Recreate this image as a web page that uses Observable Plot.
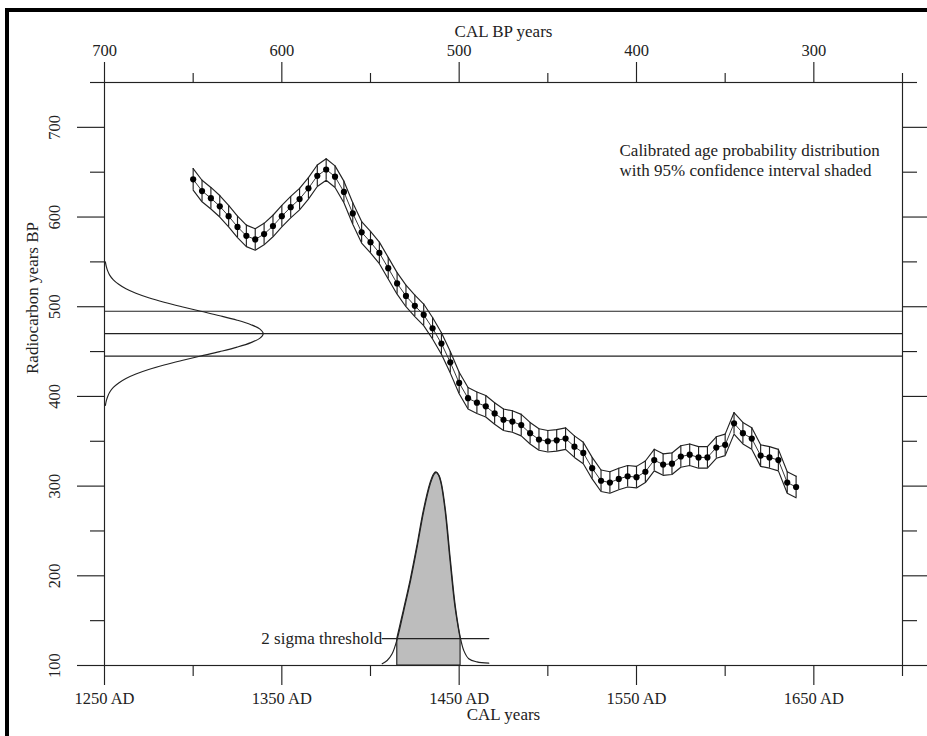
<!DOCTYPE html>
<html><head><meta charset="utf-8">
<script src="https://cdn.jsdelivr.net/npm/d3@7"></script>
<script src="https://cdn.jsdelivr.net/npm/@observablehq/plot@0.6"></script>
<style>
html,body{margin:0;padding:0;background:#fff;overflow:hidden;}
#wrap{position:relative;width:927px;height:736px;}
#border{position:absolute;left:5px;top:8px;width:1000px;height:1000px;border-left:4px solid #000;border-top:4px solid #000;pointer-events:none;}
</style></head><body>
<div id="wrap"><div id="chart"></div><div id="border"></div></div>
<script>
// Calibration curve (calendar year AD -> radiocarbon age BP)
const calYears = [1300,1305,1310,1315,1320,1325,1330,1335,1340,1345,1350,1355,1360,1365,1370,1375,1380,1385,1390,1395,1400,1405,1410,1415,1420,1425,1430,1435,1440,1445,1450,1455,1460,1465,1470,1475,1480,1485,1490,1495,1500,1505,1510,1515,1520,1525,1530,1535,1540,1545,1550,1555,1560,1565,1570,1575,1580,1585,1590,1595,1600,1605,1610,1615,1620,1625,1630,1635,1640];
const rcAge = [642,629,621,612,601,589,579,575,581,590,601,611,620,632,646,653,645,628,604,583,572,560,543,526,512,501,491,476,459,438,415,398,393,389,381,374,372,368,359,352,350,351,353,344,337,320,306,304,308,311,310,316,329,324,325,333,335,332,332,343,346,370,359,353,334,332,329,304,299];
const bandHalfWidth = 12;

// Sample radiocarbon date: mean and +/- 1 sigma lines
const sampleLines = [445, 470, 495];

// Radiocarbon probability curve drawn against the left axis
const gaussRc = [390,395,400,405,410,415,420,425,430,435,440,445,450,455,460,465,470,475,480,485,490,495,500,505,510,515,520,525,530,535,540,545,550];
const gaussYear = [1250.5,1251.0,1251.8,1253.0,1255.0,1258.0,1262.1,1267.7,1274.9,1283.6,1293.6,1304.3,1315.0,1324.8,1332.6,1337.7,1339.5,1337.7,1332.6,1324.8,1315.0,1304.3,1293.6,1283.6,1274.9,1267.7,1262.1,1258.0,1255.0,1253.0,1251.8,1251.0,1250.5];

// Calibrated age probability distribution (read in y-axis units)
const distYears = [1406.6,1409.4,1412.2,1415.1,1418.8,1422.6,1426.3,1430.1,1433.8,1435.8,1437.1,1438.6,1440.0,1442.3,1445.1,1447.9,1450.8,1452.6,1455.4,1460.0,1466.7];
const distValues = [101.9,105.6,113.0,129.8,161.3,194.7,231.9,272.8,303.0,313.0,315.4,312.0,303.0,272.8,217.0,165.0,129.8,116.7,107.5,104.0,102.6];
const shadeRange = [1415.1, 1450.8];
const thresholdValue = 130;
const thresholdYears = [1406.6, 1466.7];

// Axes
const xMajor = [1250,1350,1450,1550,1650];
const xMinor = [1300,1400,1500,1600,1700];
const yMajor = [100,200,300,400,500,600,700];
const yMinor = [150,250,350,450,550,650,750];

const curve = calYears.map((x, i) => ({x, rc: rcAge[i]}));
const gauss = gaussRc.map((rc, i) => ({x: gaussYear[i], rc}));
const dist = distYears.map((x, i) => ({x, v: distValues[i]}));
const shade = dist.filter(d => d.x >= shadeRange[0] && d.x <= shadeRange[1]);
const threshold = thresholdYears.map(x => ({x, v: thresholdValue}));

const ink = "#222";
const tickFont = 16.5;
const sw = 1.15;

const chart = Plot.plot({
  width: 927,
  height: 736,
  marginLeft: 104,
  marginRight: 25,
  marginTop: 82,
  marginBottom: 71,
  style: {fontFamily: "'Liberation Serif', 'Times New Roman', serif", background: "white", color: ink},
  x: {domain: [1250, 1700]},
  y: {domain: [100, 750]},
  marks: [
    // calibrated distribution
    Plot.areaY(shade, {x: "x", y1: 100, y2: "v", fill: "#bdbdbd", stroke: ink, strokeWidth: sw, curve: "catmull-rom"}),
    Plot.line(dist, {x: "x", y: "v", stroke: ink, strokeWidth: sw, curve: "catmull-rom"}),
    Plot.line(threshold, {x: "x", y: "v", stroke: ink, strokeWidth: sw}),
    Plot.text(["2 sigma threshold"], {x: thresholdYears[0], y: thresholdValue, textAnchor: "end", lineAnchor: "middle", fontSize: 17, fill: ink}),
    // sample lines and gaussian
    Plot.ruleY(sampleLines, {y: d => d, stroke: ink, strokeWidth: sw}),
    Plot.line(gauss, {x: "x", y: "rc", stroke: ink, strokeWidth: sw, curve: "catmull-rom"}),
    // calibration curve band
    Plot.line(curve, {x: "x", y: d => d.rc + bandHalfWidth, stroke: ink, strokeWidth: sw}),
    Plot.line(curve, {x: "x", y: d => d.rc - bandHalfWidth, stroke: ink, strokeWidth: sw}),
    Plot.ruleX(curve, {x: "x", y1: d => d.rc - bandHalfWidth, y2: d => d.rc + bandHalfWidth, stroke: ink, strokeWidth: sw}),
    Plot.line(curve, {x: "x", y: "rc", stroke: ink, strokeWidth: 0.9}),
    Plot.dot(curve, {x: "x", y: "rc", r: 3.1, fill: "#000", stroke: "none"}),
    // annotation
    Plot.text(["Calibrated age probability distribution\nwith 95% confidence interval shaded"], {frameAnchor: "top-left", dx: 515, dy: 59.5, textAnchor: "start", lineAnchor: "top", lineHeight: 20/17, fontSize: 17, fill: ink}),
    // frame
    Plot.frame({stroke: ink, strokeWidth: sw}),
    // bottom axis
    Plot.axisX({anchor: "bottom", ticks: xMajor, tickSize: 20, tickPadding: 7, tickFormat: d => `${d} AD`, fontSize: tickFont, label: null, stroke: ink, strokeWidth: sw, fill: ink}),
    Plot.axisX({anchor: "bottom", ticks: xMinor, tickSize: 11, tickFormat: () => "", label: null, stroke: ink, strokeWidth: sw}),
    // top axis (CAL BP)
    Plot.axisX({anchor: "top", ticks: xMajor, tickSize: 21, tickPadding: 6, tickFormat: d => String(1950 - d), fontSize: tickFont, label: null, stroke: ink, strokeWidth: sw, fill: ink}),
    Plot.axisX({anchor: "top", ticks: xMinor, tickSize: 10, tickFormat: () => "", label: null, stroke: ink, strokeWidth: sw}),
    // left axis
    Plot.axisY({anchor: "left", ticks: yMajor, tickSize: 27, tickFormat: () => "", label: null, stroke: ink, strokeWidth: sw}),
    Plot.axisY({anchor: "left", ticks: yMinor, tickSize: 14, tickFormat: () => "", label: null, stroke: ink, strokeWidth: sw}),
    Plot.text(yMajor, {y: d => d, text: d => String(d), frameAnchor: "left", dx: -49.3, rotate: -90, textAnchor: "middle", lineAnchor: "middle", fontSize: tickFont, fill: ink}),
    // right axis
    Plot.axisY({anchor: "right", ticks: yMajor, tickSize: 25, tickFormat: () => "", label: null, stroke: ink, strokeWidth: sw}),
    Plot.axisY({anchor: "right", ticks: yMinor, tickSize: 14, tickFormat: () => "", label: null, stroke: ink, strokeWidth: sw}),
    // axis titles
    Plot.text(["CAL BP years"], {frameAnchor: "top", dy: -46, lineAnchor: "bottom", fontSize: 17, fill: ink}),
    Plot.text(["CAL years"], {frameAnchor: "bottom", dy: 54, lineAnchor: "bottom", fontSize: 17, fill: ink}),
    Plot.text(["Radiocarbon years BP"], {frameAnchor: "left", dx: -72.4, rotate: -90, lineAnchor: "middle", fontSize: 17, fill: ink})
  ]
});
document.getElementById("chart").appendChild(chart);
</script>
</body></html>
